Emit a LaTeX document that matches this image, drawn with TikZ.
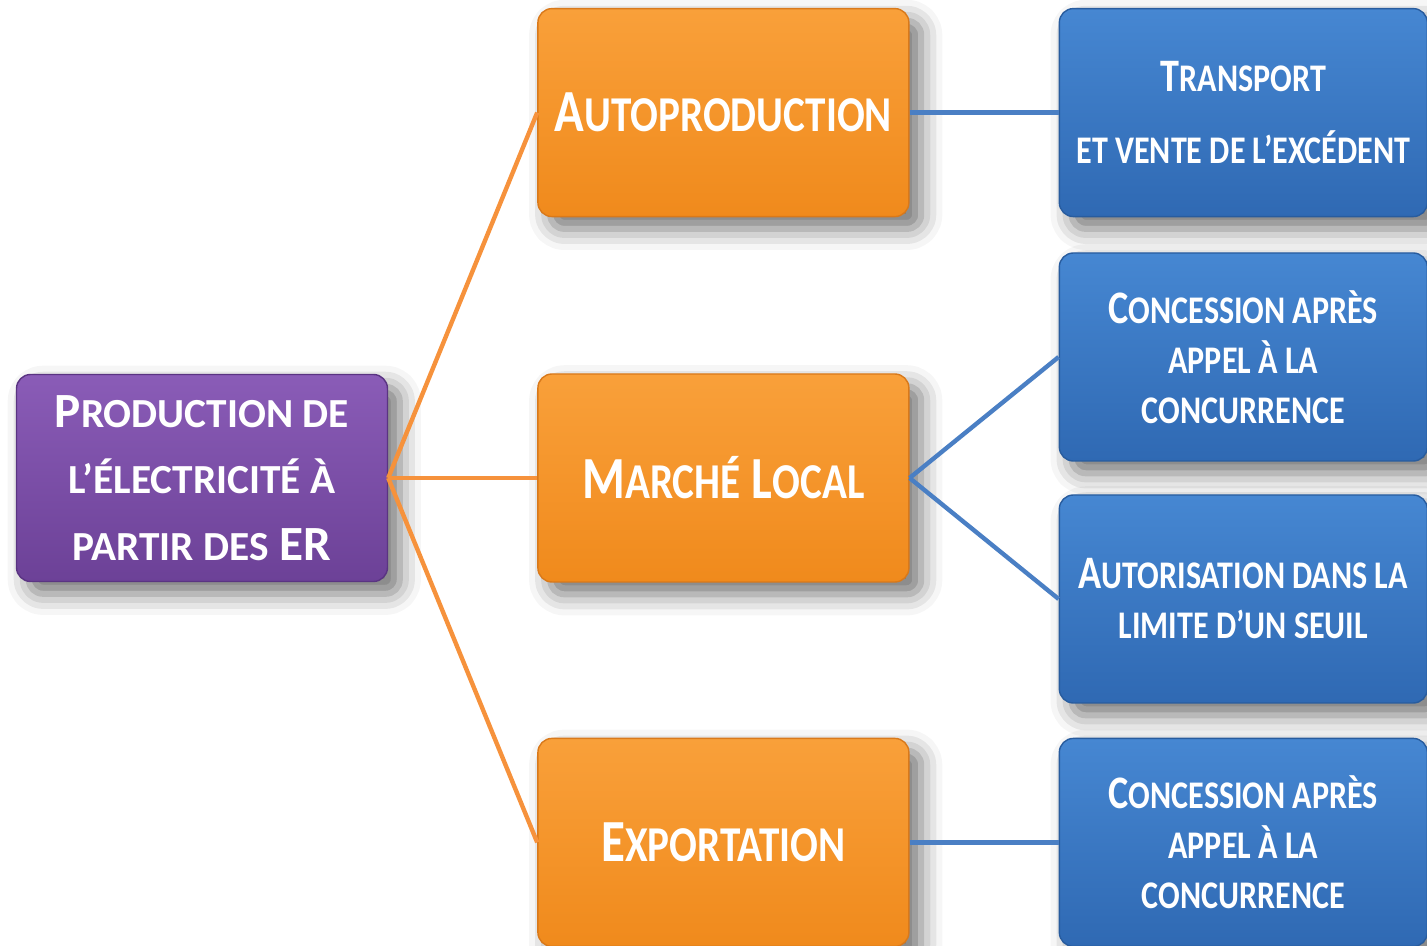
\documentclass[tikz,border=0pt]{standalone}
\usepackage{fontspec}
\usepackage{xcolor}
\usepackage{tikz}
\usetikzlibrary{positioning, shadows.blur}
\newfontfamily\widefont{Carlito}
\newfontfamily\narrowfont{Carlito}[FakeStretch=0.82]
\definecolor{prodtop}{HTML}{8A5CB7}
\definecolor{prodbot}{HTML}{6C4197}
\definecolor{proddraw}{HTML}{5A3482}
\definecolor{marktop}{HTML}{F9A03A}
\definecolor{markbot}{HTML}{F08A1C}
\definecolor{markdraw}{HTML}{D9791A}
\definecolor{regtop}{HTML}{4687D2}
\definecolor{regbot}{HTML}{2F69B3}
\definecolor{regdraw}{HTML}{285C9E}
\definecolor{orangeline}{HTML}{F6923C}
\definecolor{blueline}{HTML}{4A7FC4}
% petites capitales faites a la main
\makeatletter
\newcommand{\petit}[1]{{\fontsize{\fpeval{0.84*\f@size}}{\f@baselineskip}\selectfont #1}}
\makeatother
\tikzstyle{box} = [rectangle, rounded corners=8pt, minimum width=7.42cm, minimum height=4.14cm, text centered, align=center, text=white, line width=0.8pt, blur shadow={shadow xshift=7pt, shadow yshift=-7pt, shadow blur radius=12pt, shadow opacity=55}]
\tikzstyle{source} = [box, draw=proddraw, top color=prodtop, bottom color=prodbot, font=\widefont\bfseries\fontsize{28}{38}\selectfont]
\tikzstyle{market} = [box, minimum height=4.16cm, draw=markdraw, top color=marktop, bottom color=markbot, font=\narrowfont\bfseries\fontsize{34}{40}\selectfont]
\tikzstyle{regime} = [box, minimum width=7.36cm, minimum height=4.16cm, draw=regdraw, top color=regtop, bottom color=regbot, font=\narrowfont\bfseries\fontsize{26.5}{28.5}\selectfont]
\tikzstyle{oline} = [line width=2.5pt, draw=orangeline]
\tikzstyle{bline} = [line width=2.5pt, draw=blueline]

\begin{document}
\begin{tikzpicture}[node distance=2.98cm and 2.98cm]
\useasboundingbox (0,0) rectangle (28.54,-18.92);
% Nodes
\node (prod) [source] at (4.04,-9.56) {P\petit{RODUCTION DE}\\ \petit{L’ÉLECTRICITÉ À}\\ \petit{PARTIR DES} ER};
\node (local) [market, right=of prod] {M\petit{ARCHÉ} L\petit{OCAL}};
\node (auto) [market, above=3.12cm of local] {A\petit{UTOPRODUCTION}};
\node (export) [market, below=3.1cm of local] {E\petit{XPORTATION}};
\node (transport) [regime, right=of auto] {T\petit{RANSPORT}\\[12pt] \petit{ET VENTE DE L’EXCÉDENT}};
\node (concA) [regime, right=of local, yshift=2.42cm] {C\petit{ONCESSION APRÈS}\\ \petit{APPEL À LA}\\ \petit{CONCURRENCE}};
\node (autor) [regime, right=of local, yshift=-2.42cm] {A\petit{UTORISATION DANS LA}\\ \petit{LIMITE D’UN SEUIL}};
\node (concB) [regime, right=of export] {C\petit{ONCESSION APRÈS}\\ \petit{APPEL À LA}\\ \petit{CONCURRENCE}};

% Paths
\draw [oline] (prod.east) -- (auto.west);
\draw [oline] (prod.east) -- (local.west);
\draw [oline] (prod.east) -- (export.west);
\draw [bline] (auto.east) -- (transport.west);
\draw [bline] (local.east) -- (concA.west);
\draw [bline] (local.east) -- (autor.west);
\draw [bline] (export.east) -- (concB.west);

\end{tikzpicture}
\end{document}
